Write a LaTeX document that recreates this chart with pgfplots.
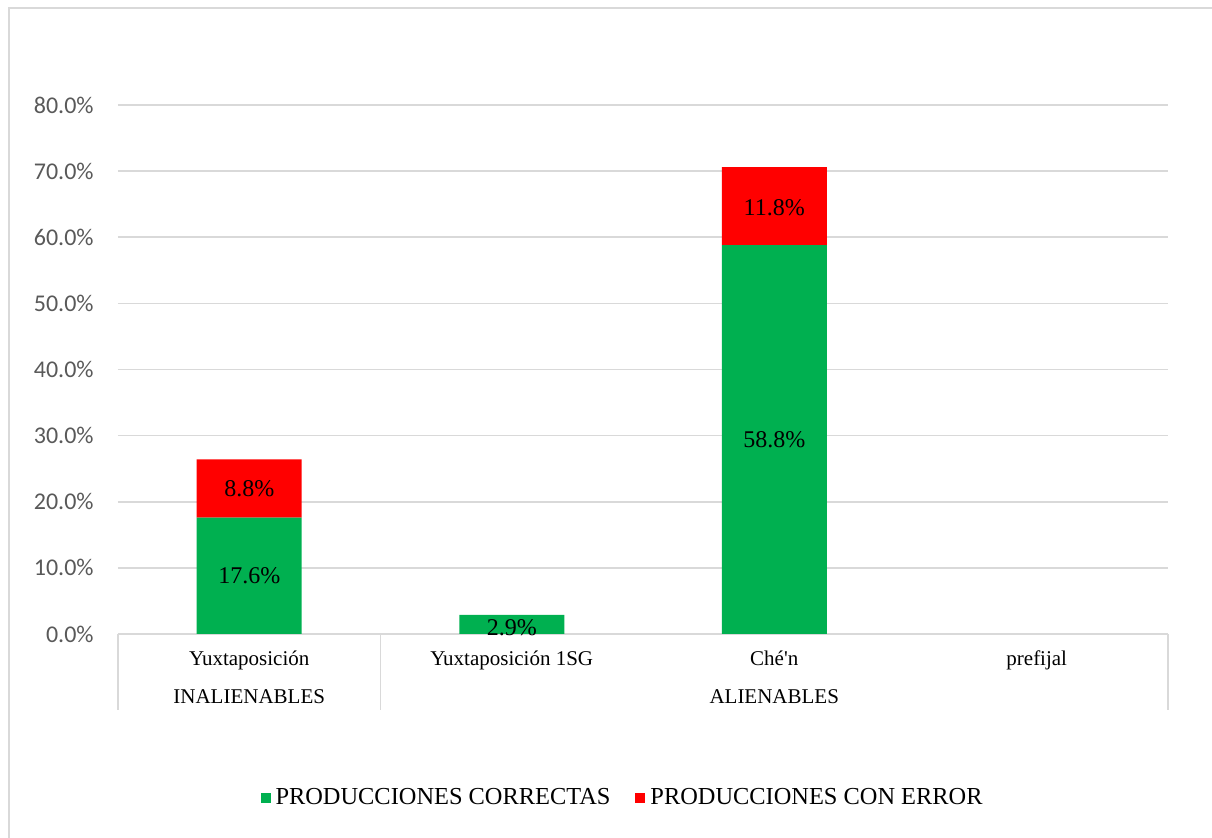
\documentclass[border=0pt]{standalone}
\usepackage{pgfplots}
\pgfplotsset{compat=1.18}
\usepackage{fontspec}
\setmainfont{Liberation Serif}
\newfontfamily\carlito{Carlito}
\definecolor{cgreen}{HTML}{00B050}
\definecolor{cred}{HTML}{FF0000}
\definecolor{gridc}{HTML}{D9D9D9}
\definecolor{tickc}{HTML}{595959}
\begin{document}
\begin{tikzpicture}[x=1pt,y=1pt]
\path[use as bounding box] (0,0) rectangle (606,419);
\draw[gridc, line width=1pt] (4.5,0) -- (4.5,415) -- (606,415);
\begin{axis}[
  at={(59pt,102pt)}, anchor=south west,
  scale only axis, width=525pt, height=264.5pt,
  ybar stacked, bar width=0.4,
  xmin=-0.5, xmax=3.5, ymin=0, ymax=80,
  clip=false,
  xtick={0,1,2,3},
  xticklabels={Yuxtaposición, Yuxtaposición 1SG, Ché\textquotesingle n, prefijal},
  ytick={0,10,...,80},
  /pgf/number format/assume math mode=true,
  yticklabel={\pgfmathprintnumber[fixed,fixed zerofill,precision=1]{\tick}\%},
  yticklabel style={font=\carlito\fontsize{12}{14}\selectfont, text=tickc, anchor=east, inner sep=0pt, xshift=-12pt},
  xticklabel style={font=\fontsize{10.5}{12}\selectfont, anchor=base, inner sep=0pt, yshift=-16pt},
  major tick length=0pt,
  tick style={draw=none},
  axis line style={draw=none},
  ymajorgrids, grid style={gridc, line width=0.8pt},
  legend style={at={(0.482,-0.31)}, anchor=center, legend columns=2, draw=none,
    font=\fontsize{12.2}{14}\selectfont, inner sep=0pt,
    /tikz/every even column/.append style={column sep=10pt},
    nodes={inner xsep=2.5pt}},
  legend image code/.code={\fill[#1] (0pt,-2.5pt) rectangle (5pt,2.5pt);},
]
\addplot[fill=cgreen, draw=none] coordinates {(0,17.6) (1,2.9) (2,58.8) (3,0)};
\addplot[fill=cred, draw=none] coordinates {(0,8.8) (1,0) (2,11.8) (3,0)};
\legend{PRODUCCIONES CORRECTAS, PRODUCCIONES CON ERROR}
\draw[gridc, line width=0.8pt] (axis cs:-0.5,0) -- ++(0pt,-38pt);
\draw[gridc, line width=0.8pt] (axis cs:0.5,0) -- ++(0pt,-38pt);
\draw[gridc, line width=0.8pt] (axis cs:3.5,0) -- ++(0pt,-38pt);
\node[font=\fontsize{10.5}{12}\selectfont, anchor=base, yshift=-35pt, inner sep=0pt] at (axis cs:0,0) {INALIENABLES};
\node[font=\fontsize{10.5}{12}\selectfont, anchor=base, yshift=-35pt, inner sep=0pt] at (axis cs:2,0) {ALIENABLES};
\end{axis}
\begin{axis}[
  at={(59pt,102pt)}, anchor=south west,
  scale only axis, width=525pt, height=264.5pt,
  xmin=-0.5, xmax=3.5, ymin=0, ymax=80,
  hide axis, clip=false,
]
\addplot[draw=none, mark=none, nodes near coords, point meta=explicit symbolic,
  every node near coord/.style={anchor=center, font=\fontsize{12}{14}\selectfont}]
  coordinates {(0,8.8) [17.6\%] (0,22.0) [8.8\%] (1,1.0) [2.9\%] (2,29.4) [58.8\%] (2,64.4) [11.8\%]};
\end{axis}
\end{tikzpicture}
\end{document}
